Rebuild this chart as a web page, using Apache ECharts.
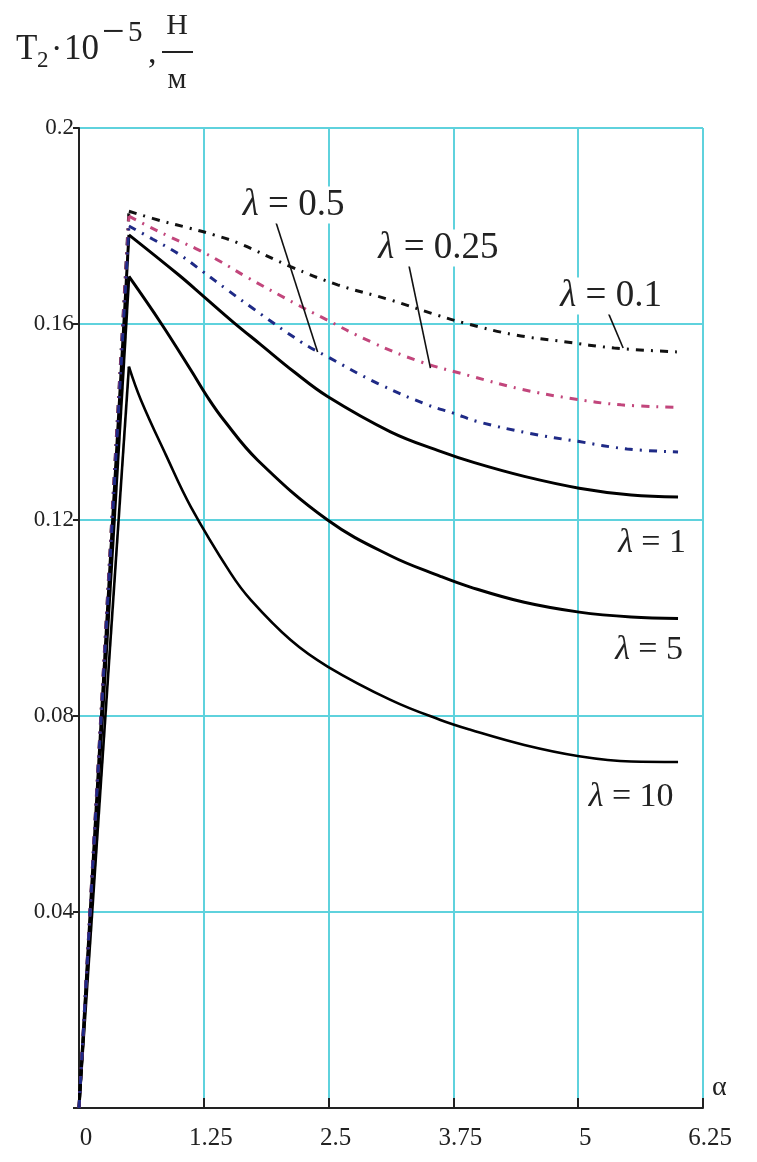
<!DOCTYPE html>
<html>
<head>
<meta charset="utf-8">
<title>T2</title>
<script src="https://cdn.jsdelivr.net/npm/echarts@6/dist/echarts.min.js"></script>
<style>
  html, body { margin: 0; padding: 0; background: #fff; }
  #main { width: 757px; height: 1162px; }
</style>
</head>
<body>
<div id="main"></div>
<script>
// 坐标刻度
var xTicks = [0, 1.25, 2.5, 3.75, 5, 6.25];
var yTicks = [0, 0.04, 0.08, 0.12, 0.16, 0.2];

// 各曲线数据 [alpha, T2*1e-5]，第一段是从0到峰值的直线
var lam01 = [[0, 0], [0.5, 0.183], [0.85, 0.1809], [1.1, 0.1796], [1.35, 0.1782], [1.6, 0.1765], [2.12, 0.1717], [2.59, 0.168], [3.12, 0.1649], [3.59, 0.1618], [3.86, 0.1602], [4.36, 0.1578], [4.86, 0.1564], [5.36, 0.1551], [6.0, 0.1543]];
var lam025 = [[0, 0], [0.5, 0.182], [0.67, 0.1802], [0.92, 0.1777], [1.17, 0.1754], [1.42, 0.1727], [1.67, 0.1697], [2.19, 0.1639], [2.42, 0.1615], [2.92, 0.1564], [3.42, 0.1523], [3.92, 0.1494], [4.43, 0.1467], [4.93, 0.1448], [5.43, 0.1435], [6.0, 0.143]];
var lam05 = [[0, 0], [0.5, 0.18], [0.74, 0.1773], [0.99, 0.1744], [1.24, 0.1707], [1.49, 0.1669], [1.74, 0.1632], [2.22, 0.1564], [2.49, 0.1533], [2.99, 0.1479], [3.49, 0.1435], [3.75, 0.1418], [3.99, 0.1401], [4.51, 0.1377], [5.01, 0.136], [5.49, 0.1345], [6.0, 0.1339]];
var lam1 = [[0, 0], [0.5, 0.1782], [1.0, 0.17], [1.25, 0.1656], [1.55, 0.1603], [1.82, 0.1558], [2.15, 0.1503], [2.49, 0.1452], [3.12, 0.138], [3.62, 0.134], [3.96, 0.1317], [4.46, 0.1289], [5.01, 0.1265], [5.53, 0.1251], [6.0, 0.1247]];
var lam5 = [[0, 0], [0.5, 0.1697], [0.82, 0.1602], [1.12, 0.1506], [1.29, 0.145], [1.45, 0.1404], [1.79, 0.1322], [2.49, 0.12], [3.12, 0.1127], [3.62, 0.1085], [3.92, 0.1063], [4.46, 0.1032], [5.01, 0.1012], [5.53, 0.1002], [6.0, 0.0999]];
var lam10 = [[0, 0], [0.5, 0.1513], [0.62, 0.1445], [0.87, 0.1333], [1.12, 0.1227], [1.52, 0.1091], [1.72, 0.1037], [2.12, 0.0955], [2.49, 0.0901], [3.12, 0.0833], [3.62, 0.0792], [3.92, 0.0772], [4.46, 0.0741], [5.01, 0.0718], [5.53, 0.0707], [6.0, 0.0706]];

// 曲线标注
var lambdaNames = ['0.1', '0.25', '0.5', '1', '5', '10'];
var labelAt = [[5.33, 0.1657], [3.6, 0.1755], [2.15, 0.1843], [5.74, 0.1153], [5.71, 0.0935], [5.53, 0.0635]];
var leaderFrom = [[5.28, 0.1633], [3.3, 0.1724], [1.95, 0.1822]];
var leaderTo = [[5.45, 0.1551], [3.52, 0.151], [2.39, 0.1543]];

var curves = [lam01, lam025, lam05, lam1, lam5, lam10];
var colors = ['#111111', '#c2467c', '#1f2a86', '#000000', '#000000', '#000000'];
var dashes = [[8, 7, 2, 7], [8, 7, 2, 7], [8, 7, 2, 7], 'solid', 'solid', 'solid'];
var widths = [3, 3, 3, 3, 3, 2.6];

var serif = '"Liberation Serif", "DejaVu Serif", serif';

var myChart = echarts.init(document.getElementById('main'));

// 先画实线，再画点划线
var order = [5, 4, 3, 0, 1, 2];
var series = [];
order.forEach(function (i) {
  var ls = { color: colors[i], width: widths[i], type: dashes[i] };
  series.push({
    type: 'line',
    data: curves[i].slice(0, 2),
    showSymbol: false,
    lineStyle: ls,
    z: 2
  });
  series.push({
    type: 'line',
    data: curves[i].slice(1),
    showSymbol: false,
    smooth: 0.4,
    lineStyle: ls,
    z: 2
  });
});

var option = {
  animation: false,
  backgroundColor: '#fff',
  grid: { left: 79, right: 54, top: 128, bottom: 54 },
  xAxis: {
    type: 'value',
    min: xTicks[0],
    max: xTicks[xTicks.length - 1],
    interval: xTicks[1] - xTicks[0],
    axisLine: { lineStyle: { color: '#222', width: 2 } },
    axisTick: { inside: true, length: 10, lineStyle: { color: '#222', width: 2 } },
    axisLabel: {
      fontFamily: serif,
      fontSize: 25,
      color: '#222',
      margin: 18,
      padding: [0, 0, 0, 14],
      formatter: function (v) { return String(parseFloat(v.toFixed(2))); }
    },
    splitLine: { lineStyle: { color: '#5fd2dd', width: 2 } }
  },
  yAxis: {
    type: 'value',
    min: yTicks[0],
    max: yTicks[yTicks.length - 1],
    interval: yTicks[1] - yTicks[0],
    axisLine: { show: true, lineStyle: { color: '#222', width: 2 } },
    axisTick: { show: true, length: 6, lineStyle: { color: '#222', width: 2 } },
    axisLabel: {
      fontFamily: serif,
      fontSize: 23,
      color: '#222',
      margin: 5,
      padding: [4, 0, 0, 0],
      formatter: function (v) { return v === 0 ? '' : String(parseFloat(v.toFixed(2))); }
    },
    splitLine: { lineStyle: { color: '#5fd2dd', width: 2 } }
  },
  series: series
};
myChart.setOption(option);

// 标注和坐标轴名称
var graphics = [];
function txt(x, y, text, size, align) {
  return {
    type: 'text', x: x, y: y, z: 10,
    style: {
      text: text, font: size + 'px ' + serif, fill: '#222',
      textAlign: align || 'left', textVerticalAlign: 'middle',
      align: align || 'left', verticalAlign: 'middle'
    }
  };
}
// 纵轴名称 T2·10^-5, Н/м
graphics.push(txt(16, 50, 'T', 35));
graphics.push(txt(37, 61, '2', 23));
graphics.push(txt(51, 50, '·', 34));
graphics.push(txt(64, 50, '10', 35));
graphics.push(txt(102, 33, '−', 40));
graphics.push(txt(128, 33, '5', 29));
graphics.push(txt(148, 54, ',', 34));
graphics.push(txt(177, 26, 'Н', 30, 'center'));
graphics.push({ type: 'line', z: 10, shape: { x1: 162, y1: 52, x2: 193, y2: 52 }, style: { stroke: '#222', lineWidth: 2 } });
graphics.push(txt(177, 80, 'м', 30, 'center'));
// 横轴名称
graphics.push(txt(712, 1088, 'α', 28));

// 引出线
for (var k = 0; k < leaderFrom.length; k++) {
  var p1 = myChart.convertToPixel({ gridIndex: 0 }, leaderFrom[k]);
  var p2 = myChart.convertToPixel({ gridIndex: 0 }, leaderTo[k]);
  graphics.push({
    type: 'line', z: 9,
    shape: { x1: p1[0], y1: p1[1], x2: p2[0], y2: p2[1] },
    style: { stroke: '#111', lineWidth: 1.6 }
  });
}
// λ 标签
for (var j = 0; j < lambdaNames.length; j++) {
  var p = myChart.convertToPixel({ gridIndex: 0 }, labelAt[j]);
  var fs = j < 3 ? 37 : 34;
  graphics.push({
    type: 'text', x: p[0], y: p[1], z: 11,
    style: {
      text: '{l|λ} = ' + lambdaNames[j],
      font: fs + 'px ' + serif,
      fill: '#222',
      textAlign: 'center', textVerticalAlign: 'middle',
      align: 'center', verticalAlign: 'middle',
      backgroundColor: '#fff',
      padding: [0, 4],
      rich: { l: { fontStyle: 'italic', fontFamily: serif, fontSize: fs, fill: '#222' } }
    }
  });
}
myChart.setOption({ graphic: graphics });
</script>
</body>
</html>
